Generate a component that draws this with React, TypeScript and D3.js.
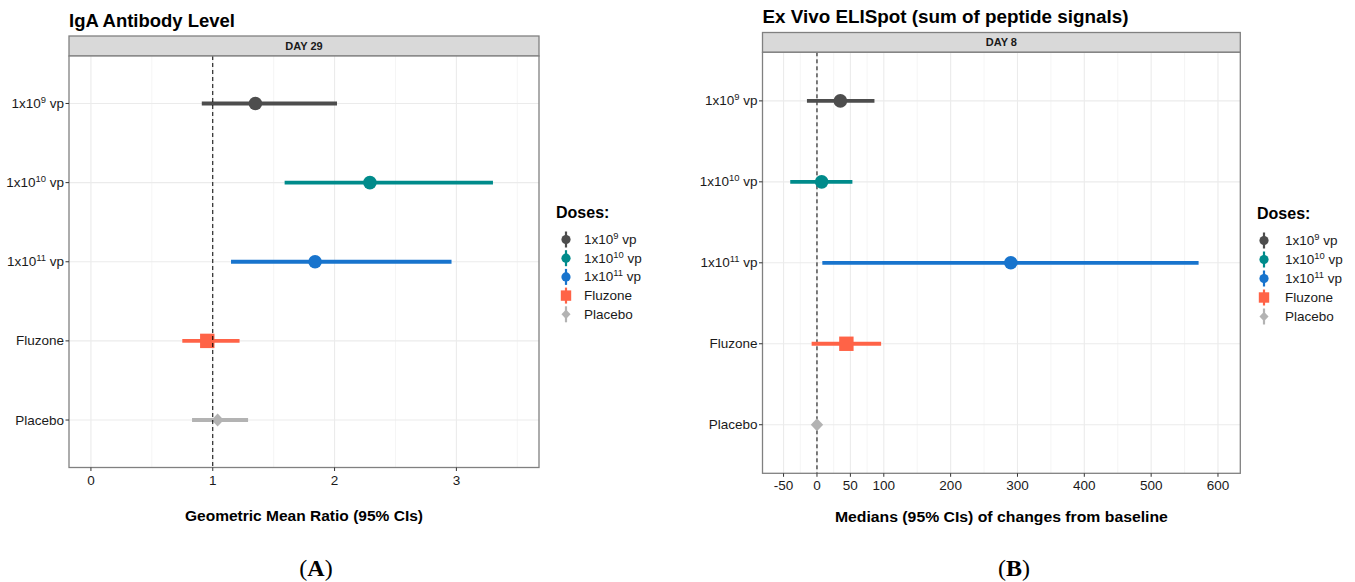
import React from "react";
import * as d3 from "d3";

// ---------- data ----------
const doseBases = ["1x10", "1x10", "1x10", "Fluzone", "Placebo"];
const doseExponents = ["9", "10", "11", "", ""];
const doseSuffix = [" vp", " vp", " vp", "", ""];
const doseKeys = ["d9", "d10", "d11", "flu", "pla"];
const doseColors = ["#4D4D4D", "#008B8B", "#1874CD", "#FF6347", "#B3B3B3"];
const doseShapes = ["circle", "circle", "circle", "square", "diamond"];

const igaEstimate = [1.35, 2.29, 1.84, 0.955, 1.04];
const igaLower = [0.91, 1.59, 1.15, 0.75, 0.83];
const igaUpper = [2.02, 3.3, 2.96, 1.22, 1.29];
const igaTicks = [0, 1, 2, 3];
const igaMinorTicks = [0.5, 1.5, 2.5, 3.5];

const elispotEstimate = [35, 7, 290, 44, 0];
const elispotLower = [-15, -40, 8, -8, -4];
const elispotUpper = [86, 53, 571, 96, 5];
const elispotTicks = [-50, 0, 50, 100, 200, 300, 400, 500, 600];
const elispotMinorTicks = [-25, 25, 75, 150, 250, 350, 450, 550];

const FONT = "'Liberation Sans', Arial, Helvetica, sans-serif";
const LABEL_SIZE = 13.5;

type PanelProps = {
  title: string;
  titleX: number;
  titleY: number;
  titleLen: number;
  strip: string;
  left: number;
  right: number;
  stripTop: number;
  top: number;
  bottom: number;
  domain: [number, number];
  ticks: number[];
  minor: number[];
  est: number[];
  lo: number[];
  hi: number[];
  refX: number;
  refOnTop: boolean;
  axisTitle: string;
  axisTitleLen: number;
  axisTitleY: number;
  legendX: number;
  legendTitleY: number;
  legendKeyX: number;
  legendLabelX: number;
  legendY0: number;
  legendStep: number;
  tag: string;
  tagX: number;
};

function Marker({ shape, x, y, color, s }: { shape: string; x: number; y: number; color: string; s: number }) {
  if (shape === "circle") return <circle cx={x} cy={y} r={s} fill={color} />;
  if (shape === "square")
    return <rect x={x - s} y={y - s} width={2 * s} height={2 * s} fill={color} />;
  const h = s * 0.95;
  return (
    <path
      d={`M${x},${y - h * 1.05}L${x + h},${y}L${x},${y + h * 1.05}L${x - h},${y}Z`}
      fill={color}
    />
  );
}

function DoseLabel({ i, x, y, anchor, size }: { i: number; x: number; y: number; anchor: string; size: number }) {
  return (
    <text x={x} y={y} textAnchor={anchor as any} fontFamily={FONT} fontSize={size} fill="#1A1A1A">
      {doseBases[i]}
      {doseExponents[i] && (
        <tspan fontSize={size * 0.7} dy={-5}>
          {doseExponents[i]}
        </tspan>
      )}
      {doseSuffix[i] && <tspan dy={doseExponents[i] ? 5 : 0}>{doseSuffix[i]}</tspan>}
    </text>
  );
}

function Panel(p: PanelProps) {
  const x = d3.scaleLinear().domain(p.domain).range([p.left, p.right]);
  const y = d3
    .scalePoint<string>()
    .domain(doseKeys)
    .range([p.top, p.bottom])
    .padding(0.6);
  const refLine = (
    <line
      x1={x(p.refX)}
      x2={x(p.refX)}
      y1={p.top}
      y2={p.bottom}
      stroke="#000"
      strokeWidth={1}
      strokeDasharray="4,3"
    />
  );
  const cx = (p.left + p.right) / 2;
  return (
    <g>
      <text
        x={p.titleX}
        y={p.titleY}
        fontFamily={FONT}
        fontWeight="bold"
        fontSize={17.5}
        textLength={p.titleLen}
        lengthAdjust="spacingAndGlyphs"
        fill="#000"
      >
        {p.title}
      </text>
      {/* strip */}
      <rect
        x={p.left}
        y={p.stripTop}
        width={p.right - p.left}
        height={p.top - p.stripTop}
        fill="#D9D9D9"
        stroke="#808080"
        strokeWidth={1.3}
      />
      <text
        x={cx}
        y={(p.stripTop + p.top) / 2 + 4}
        textAnchor="middle"
        fontFamily={FONT}
        fontWeight="bold"
        fontSize={11}
        fill="#1A1A1A"
      >
        {p.strip}
      </text>
      {/* grid */}
      <rect x={p.left} y={p.top} width={p.right - p.left} height={p.bottom - p.top} fill="#fff" />
      {p.minor.map((t) => (
        <line key={"m" + t} x1={x(t)} x2={x(t)} y1={p.top} y2={p.bottom} stroke="#F2F2F2" strokeWidth={0.8} />
      ))}
      {p.ticks.map((t) => (
        <line key={"g" + t} x1={x(t)} x2={x(t)} y1={p.top} y2={p.bottom} stroke="#EBEBEB" strokeWidth={1.1} />
      ))}
      {doseKeys.map((k) => (
        <line key={"h" + k} x1={p.left} x2={p.right} y1={y(k)} y2={y(k)} stroke="#EBEBEB" strokeWidth={1.1} />
      ))}
      {!p.refOnTop && refLine}
      {/* point ranges */}
      {doseKeys.map((k, i) => (
        <g key={"pr" + k}>
          <line
            x1={x(p.lo[i])}
            x2={x(p.hi[i])}
            y1={y(k)}
            y2={y(k)}
            stroke={doseColors[i]}
            strokeWidth={3.8}
          />
          <Marker
            shape={doseShapes[i]}
            x={x(p.est[i])}
            y={y(k)!}
            color={doseColors[i]}
            s={doseShapes[i] === "circle" ? 6.8 : doseShapes[i] === "square" ? 7.2 : 6.5}
          />
        </g>
      ))}
      {p.refOnTop && refLine}
      {/* panel border */}
      <rect
        x={p.left}
        y={p.top}
        width={p.right - p.left}
        height={p.bottom - p.top}
        fill="none"
        stroke="#808080"
        strokeWidth={1.3}
      />
      {/* x axis */}
      {p.ticks.map((t) => (
        <g key={"xt" + t}>
          <line x1={x(t)} x2={x(t)} y1={p.bottom} y2={p.bottom + 3.5} stroke="#333" strokeWidth={1} />
          <text
            x={x(t)}
            y={p.bottom + 17}
            textAnchor="middle"
            fontFamily={FONT}
            fontSize={LABEL_SIZE}
            fill="#1A1A1A"
          >
            {t}
          </text>
        </g>
      ))}
      {/* y axis */}
      {doseKeys.map((k, i) => (
        <g key={"yt" + k}>
          <line x1={p.left - 3.5} x2={p.left} y1={y(k)} y2={y(k)} stroke="#333" strokeWidth={1} />
          <DoseLabel i={i} x={p.left - 5} y={y(k)! + 4.5} anchor="end" size={LABEL_SIZE} />
        </g>
      ))}
      <text
        x={cx}
        y={p.axisTitleY}
        textAnchor="middle"
        fontFamily={FONT}
        fontWeight="bold"
        fontSize={14}
        textLength={p.axisTitleLen}
        lengthAdjust="spacingAndGlyphs"
        fill="#000"
      >
        {p.axisTitle}
      </text>
      {/* legend */}
      <text x={p.legendX} y={p.legendTitleY} fontFamily={FONT} fontWeight="bold" fontSize={16} fill="#000">
        Doses:
      </text>
      {doseKeys.map((k, i) => {
        const ly = p.legendY0 + i * p.legendStep;
        return (
          <g key={"lg" + k}>
            <line
              x1={p.legendKeyX}
              x2={p.legendKeyX}
              y1={ly - 8}
              y2={ly + 8}
              stroke={doseColors[i]}
              strokeWidth={2.2}
            />
            <Marker
              shape={doseShapes[i]}
              x={p.legendKeyX}
              y={ly}
              color={doseColors[i]}
              s={doseShapes[i] === "circle" ? 4.6 : doseShapes[i] === "square" ? 5.2 : 4.8}
            />
            <DoseLabel i={i} x={p.legendLabelX} y={ly + 4.5} anchor="start" size={LABEL_SIZE} />
          </g>
        );
      })}
      {/* panel tag */}
      <text
        x={p.tagX}
        y={576}
        textAnchor="middle"
        fontFamily="'Liberation Serif', 'DejaVu Serif', serif"
        fontSize={24}
        fill="#000"
      >
        (<tspan fontWeight="bold">{p.tag}</tspan>)
      </text>
    </g>
  );
}

export default function App() {
  return (
    <svg
      width={1355}
      height={582}
      style={{ position: "absolute", left: 0, top: 0, background: "#fff" }}
    >
      <rect width={1355} height={582} fill="#fff" />
      <Panel
        title="IgA Antibody Level"
        titleX={69}
        titleY={27}
        titleLen={166}
        strip="DAY 29"
        left={69}
        right={539}
        stripTop={36}
        top={56}
        bottom={467.5}
        domain={[-0.18, 3.678]}
        ticks={igaTicks}
        minor={igaMinorTicks}
        est={igaEstimate}
        lo={igaLower}
        hi={igaUpper}
        refX={1}
        refOnTop={true}
        axisTitle="Geometric Mean Ratio (95% CIs)"
        axisTitleLen={238}
        axisTitleY={521}
        legendX={556}
        legendTitleY={218}
        legendKeyX={566}
        legendLabelX={584}
        legendY0={239.5}
        legendStep={18.7}
        tag="A"
        tagX={316}
      />
      <Panel
        title="Ex Vivo ELISpot (sum of peptide signals)"
        titleX={762.5}
        titleY={23}
        titleLen={366}
        strip="DAY 8"
        left={762.5}
        right={1240.3}
        stripTop={32.5}
        top={52.3}
        bottom={473.3}
        domain={[-81.5, 633.4]}
        ticks={elispotTicks}
        minor={elispotMinorTicks}
        est={elispotEstimate}
        lo={elispotLower}
        hi={elispotUpper}
        refX={0}
        refOnTop={false}
        axisTitle="Medians (95% CIs) of changes from baseline"
        axisTitleLen={333}
        axisTitleY={522}
        legendX={1257}
        legendTitleY={219}
        legendKeyX={1264}
        legendLabelX={1285}
        legendY0={240.5}
        legendStep={19}
        tag="B"
        tagX={1014}
      />
    </svg>
  );
}
